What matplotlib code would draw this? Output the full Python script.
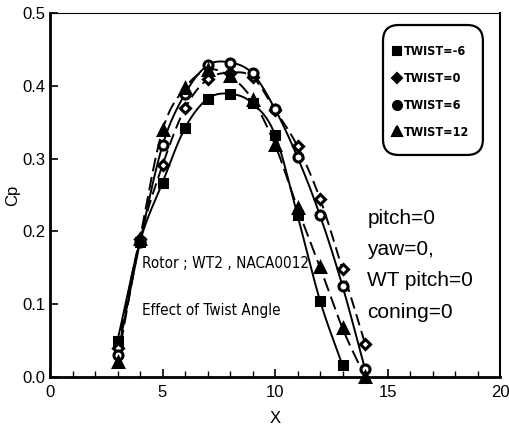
import numpy as np
import matplotlib
matplotlib.use("Agg")
import matplotlib.pyplot as plt
from matplotlib.ticker import MultipleLocator, FormatStrFormatter
from matplotlib.font_manager import fontManager, FontProperties
from matplotlib.patches import FancyBboxPatch

# ---- data ----
x_vals = [3, 4, 5, 6, 7, 8, 9, 10, 11, 12, 13, 14]
labels = ["TWIST=-6", "TWIST=0", "TWIST=6", "TWIST=12"]
cp_m6 = [0.050, 0.186, 0.267, 0.342, 0.382, 0.389, 0.376, 0.333, 0.222, 0.105, 0.016]
cp_0 = [0.040, 0.190, 0.291, 0.369, 0.409, 0.418, 0.412, 0.367, 0.317, 0.245, 0.148, 0.046]
cp_6 = [0.030, 0.185, 0.318, 0.389, 0.428, 0.432, 0.417, 0.368, 0.302, 0.222, 0.125, 0.011]
cp_12 = [0.020, 0.190, 0.339, 0.397, 0.422, 0.413, 0.381, 0.319, 0.232, 0.151, 0.067, 0.000]
notes = ["pitch=0", "yaw=0,", "WT pitch=0", "coning=0"]
title_lines = ["Rotor ; WT2 , NACA0012", "Effect of Twist Angle"]

plt.rcParams["font.family"] = ["Liberation Sans", "DejaVu Sans"]

# pick a condensed face if one is installed
def find_condensed(bold):
    want = ("bold", 700) if bold else ("normal", 400, "regular")
    for f in fontManager.ttflist:
        if f.stretch in ("condensed", 300, 400) or "Narrow" in f.name or "Condensed" in f.name:
            if f.weight in want and f.style == "normal":
                return f.fname
    return None


cond_file = find_condensed(False)
bold_cond_file = find_condensed(True)


def cond_props(size, bold=False):
    fname = bold_cond_file if bold else cond_file
    if fname:
        return FontProperties(fname=fname, size=size)
    return FontProperties(family="Liberation Sans", size=size * 0.85,
                          weight="bold" if bold else "normal")


def smooth(xs, ys, n=30):
    """Catmull-Rom curve through the given points."""
    xs = np.asarray(xs, float)
    ys = np.asarray(ys, float)
    px = np.concatenate([[2 * xs[0] - xs[1]], xs, [2 * xs[-1] - xs[-2]]])
    py = np.concatenate([[2 * ys[0] - ys[1]], ys, [2 * ys[-1] - ys[-2]]])
    t = np.linspace(0, 1, n)[:-1]
    ox, oy = [], []
    for i in range(1, len(px) - 2):
        for p, o in ((px, ox), (py, oy)):
            p0, p1, p2, p3 = p[i - 1], p[i], p[i + 1], p[i + 2]
            o.extend(0.5 * ((2 * p1) + (-p0 + p2) * t
                            + (2 * p0 - 5 * p1 + 4 * p2 - p3) * t ** 2
                            + (-p0 + 3 * p1 - 3 * p2 + p3) * t ** 3))
    ox.append(xs[-1]); oy.append(ys[-1])
    return np.array(ox), np.array(oy)


fig = plt.figure(figsize=(5.10, 4.37), dpi=100)
ax = fig.add_axes([50 / 510, 1 - 377 / 437, 450 / 510, 364 / 437])

series = [
    (cp_m6, "s", "-", "black", 5.5),
    (cp_0, "D", (0, (6, 3)), "white", 5.5),
    (cp_6, "o", "-", "white", 6.5),
    (cp_12, "^", (0, (7, 3)), "black", 6.5),
]
handles = []
for (vals, mk, ls, face, ms), lab in zip(series, labels):
    xs = x_vals[:len(vals)]
    sx, sy = smooth(xs, vals)
    ax.plot(sx, sy, color="black", ls=ls, lw=1.4, zorder=2)
    ax.plot(xs, vals, ls="none", marker=mk, ms=ms, mfc=face,
            mec="black", mew=2.2, zorder=3, clip_on=False)
    h, = ax.plot([], [], ls="none", marker=mk, ms=ms, mfc="black",
                 mec="black", mew=1.5)
    handles.append(h)

ax.set_xlim(0, 20)
ax.set_ylim(0, 0.5)
ax.xaxis.set_major_locator(MultipleLocator(5))
ax.xaxis.set_minor_locator(MultipleLocator(1))
ax.yaxis.set_major_locator(MultipleLocator(0.1))
ax.yaxis.set_major_formatter(FormatStrFormatter("%.1f"))
ax.tick_params(axis="both", which="major", direction="in", length=6, width=1.2,
               labelsize=12, top=False, right=False)
ax.tick_params(axis="x", which="minor", direction="in", length=4, width=1)
ax.tick_params(axis="x", which="major", pad=6)
for side in ("left", "bottom"):
    ax.spines[side].set_linewidth(2)
ax.spines["right"].set_linewidth(1.5)
ax.spines["top"].set_linewidth(0.8)

ax.set_xlabel("X", fontsize=12, labelpad=8)
ax.set_ylabel("Cp", fontsize=12)
ax.yaxis.set_label_coords(-30 / 450, 0.5)

# rounded legend frame
box = FancyBboxPatch((0.74, 0.61), 0.222, 0.357, transform=ax.transAxes,
                     boxstyle="round,pad=0,rounding_size=0.035",
                     facecolor="white", edgecolor="black", lw=1.6, zorder=4,
                     mutation_aspect=450 / 364)
ax.add_patch(box)
leg = ax.legend(handles, labels, loc="upper left", bbox_to_anchor=(0.762, 0.911),
                frameon=False, handlelength=0.6, handletextpad=0.25,
                labelspacing=1.1, borderpad=0, borderaxespad=0,
                prop=cond_props(9, bold=True))
leg.set_zorder(5)

for i, t in enumerate(notes):
    ax.text(14.1, 0.218 - i * 0.043, t, fontsize=15, va="center", ha="left")

ax.text(4.1, 0.156, title_lines[0], fontproperties=cond_props(11), va="center")
ax.text(4.1, 0.091, title_lines[1], fontproperties=cond_props(11), va="center")

fig.savefig("out.png", dpi=100)
